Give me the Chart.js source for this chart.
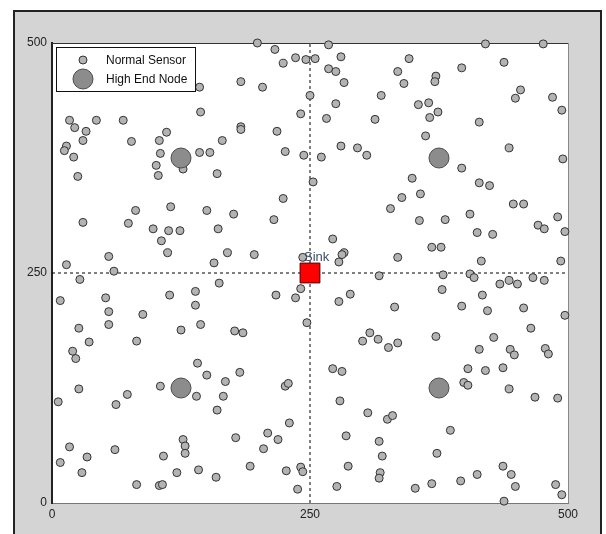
<!DOCTYPE html>
<html>
<head>
<meta charset="utf-8">
<script src="https://cdn.jsdelivr.net/npm/chart.js@4.4.1/dist/chart.umd.min.js"></script>
<style>
  html, body { margin: 0; padding: 0; background: #fff; }
  canvas { display: block; }
</style>
</head>
<body>
<canvas id="chart" width="606" height="534"></canvas>
<script>
// sensor field, 500 x 500
const sensorX = [143, 144, 17, 22, 43, 69, 33, 111, 30, 77, 104, 165, 14, 12, 21, 105, 143, 153, 101, 127, 103, 25, 160,
  199, 216, 268, 224, 236, 246, 255, 280, 268, 275, 335, 183, 204, 283, 250, 319, 275, 241, 266, 313, 183, 183, 218, 280, 296, 305, 226, 244, 261, 253, 224,
  420, 476, 346, 397, 438, 372, 371, 341, 454, 449, 485, 494, 355, 365, 374, 366, 414, 362, 443, 495, 397, 349, 414, 424, 357, 339,
  81, 115, 150, 30, 74, 98, 113, 124, 161, 106, 112, 170, 55, 14, 157, 60, 27, 162, 8, 52, 114, 139, 139, 55, 88, 55, 144, 26, 125, 36, 82, 20,
  328, 176, 215, 272, 196, 283, 281, 243, 278, 335, 317, 241, 217, 236, 289, 278, 332, 247, 177, 185, 308, 316, 301, 326, 335,
  447, 457, 356, 381, 405, 490, 471, 477, 497, 412, 427, 368, 377, 416, 493, 379, 405, 409, 466, 477, 434, 443, 451, 378, 417, 397, 422, 457, 497, 464, 372, 428, 414, 444, 478, 481, 448,
  23, 141, 150, 168, 26, 105, 140, 166, 6, 62, 73, 160, 127, 129, 129, 17, 34, 61, 8, 108, 29, 121, 142, 159, 82, 104, 107,
  182, 226, 229, 272, 281, 279, 306, 325, 330, 230, 209, 219, 178, 205, 285, 317, 320, 192, 227, 241, 243, 287, 318, 317, 276, 238,
  403, 420, 437, 399, 403, 443, 468, 490, 386, 373, 437, 445, 412, 396, 368, 352, 449, 488, 494, 438];
const sensorY = [452, 425, 416, 408, 416, 416, 404, 403, 394, 393, 394, 394, 388, 383, 376, 380, 381, 381, 367, 363, 356, 355, 358,
  500, 493, 498, 478, 484, 482, 483, 485, 472, 469, 469, 458, 452, 457, 443, 443, 434, 423, 418, 417, 409, 406, 404, 388, 386, 378, 382, 378, 376, 349, 331,
  499, 499, 483, 473, 479, 464, 458, 456, 449, 440, 441, 427, 433, 435, 425, 419, 414, 399, 386, 374, 364, 353, 348, 345, 336, 332,
  318, 322, 318, 305, 304, 298, 296, 296, 298, 285, 272, 272, 268, 259, 261, 252, 243, 239, 220, 223, 226, 230, 215, 208, 205, 194, 194, 190, 188, 175, 176, 165,
  320, 314, 308, 287, 270, 272, 270, 267, 262, 267, 247, 233, 226, 223, 227, 219, 213, 196, 187, 185, 185, 178, 176, 169, 174,
  325, 325, 307, 308, 314, 311, 302, 298, 295, 294, 292, 278, 278, 263, 263, 248, 249, 245, 245, 242, 238, 242, 238, 232, 226, 214, 209, 212, 204, 190, 181, 180, 167, 167, 168, 162, 161,
  157, 152, 139, 132, 124, 127, 116, 116, 110, 107, 118, 101, 69, 62, 54, 61, 50, 58, 44, 51, 33, 33, 36, 28, 20, 19, 20,
  142, 127, 130, 146, 143, 111, 98, 91, 95, 87, 76, 69, 71, 59, 73, 67, 51, 40, 35, 39, 34, 40, 33, 27, 18, 15,
  146, 144, 147, 131, 128, 124, 115, 114, 79, 54, 40, 31, 31, 24, 21, 16, 18, 20, 9, 2];
const highEndX = [125, 375, 125, 375];
const highEndY = [375, 375, 125, 125];
const sinkX = [250];
const sinkY = [250];
const axisTicks = [0, 250, 500];
const legendLabels = ["Normal Sensor", "High End Node"];
const sinkLabel = "Sink";

const FONT = "'Liberation Sans', Arial, sans-serif";

function toPoints(xs, ys) {
  return xs.map((x, i) => ({ x: x, y: ys[i] }));
}

const framePlugin = {
  id: "frame",
  beforeDraw(chart) {
    const ctx = chart.ctx, a = chart.chartArea;
    ctx.save();
    ctx.fillStyle = "#fff";
    ctx.fillRect(0, 0, chart.width, chart.height);
    ctx.fillStyle = "#d4d4d4";
    ctx.fillRect(14, 11, 587, 540);
    ctx.strokeStyle = "#222";
    ctx.lineWidth = 2;
    ctx.strokeRect(14, 11, 587, 540);
    ctx.fillStyle = "#fff";
    ctx.fillRect(a.left, a.top, a.right - a.left, a.bottom - a.top);
    ctx.restore();
  },
  beforeDatasetsDraw(chart) {
    const ctx = chart.ctx, a = chart.chartArea;
    ctx.save();
    ctx.lineWidth = 1;
    ctx.strokeStyle = "#333";
    ctx.beginPath();
    ctx.moveTo(a.left, a.top + 0.5);
    ctx.lineTo(a.right + 1, a.top + 0.5);
    ctx.stroke();
    ctx.strokeStyle = "#888";
    ctx.beginPath();
    ctx.moveTo(a.right + 0.5, a.top);
    ctx.lineTo(a.right + 0.5, a.bottom);
    ctx.stroke();
    ctx.restore();
  },
  afterDatasetsDraw(chart) {
    const ctx = chart.ctx;
    const sx = chart.scales.x.getPixelForValue(sinkX[0]);
    const sy = chart.scales.y.getPixelForValue(sinkY[0]);
    ctx.save();
    ctx.font = "13px " + FONT;
    ctx.fillStyle = "#3b4a6b";
    ctx.textBaseline = "alphabetic";
    ctx.fillText(sinkLabel, sx - 6, sy - 12);
    ctx.restore();
  },
  afterDraw(chart) {
    const ctx = chart.ctx, a = chart.chartArea;
    const bx = a.left + 4, by = a.top + 4;
    ctx.save();
    ctx.fillStyle = "#fff";
    ctx.fillRect(bx, by, 139, 44);
    ctx.strokeStyle = "#111";
    ctx.lineWidth = 1;
    ctx.strokeRect(bx + 0.5, by + 0.5, 139, 44);
    const sets = [chart.data.datasets[1], chart.data.datasets[2]];
    const rows = [by + 13, by + 32];
    sets.forEach((ds, i) => {
      ctx.beginPath();
      ctx.arc(bx + 27, rows[i], ds.pointRadius, 0, Math.PI * 2);
      ctx.fillStyle = ds.backgroundColor;
      ctx.fill();
      ctx.lineWidth = ds.borderWidth;
      ctx.strokeStyle = ds.borderColor;
      ctx.stroke();
      ctx.font = "12px " + FONT;
      ctx.fillStyle = "#111";
      ctx.textBaseline = "middle";
      ctx.fillText(legendLabels[i], bx + 50, rows[i] + 1);
    });
    ctx.restore();
  }
};

const axisStyle = (fit) => ({
  type: "linear",
  min: 0,
  max: 500,
  afterBuildTicks: s => { s.ticks = axisTicks.map(v => ({ value: v })); },
  afterFit: fit,
  grid: { display: false, drawTicks: false },
  ticks: { font: { family: FONT, size: 12 }, color: "#222", padding: 5 }
});

const xAxis = axisStyle(s => { s.height = 31; });
xAxis.border = { display: true, color: "#777", width: 1 };
xAxis.ticks.padding = 4;
const yAxis = axisStyle(s => { s.width = 52; });
yAxis.border = { display: true, color: "#222", width: 2 };

new Chart(document.getElementById("chart"), {
  type: "scatter",
  data: {
    datasets: [
      {
        data: [{ x: 250, y: 0 }, { x: 250, y: 500 }],
        showLine: true, pointRadius: 0, borderColor: "#000", borderWidth: 1,
        borderDash: [3, 3], order: 4
      },
      {
        data: toPoints(sensorX, sensorY),
        pointRadius: 4, backgroundColor: "#b3b3b3", borderColor: "#333",
        borderWidth: 1, clip: false, order: 2
      },
      {
        data: toPoints(highEndX, highEndY),
        pointRadius: 10, backgroundColor: "#8c8c8c", borderColor: "#4d4d4d",
        borderWidth: 1, order: 1
      },
      {
        data: toPoints(sinkX, sinkY),
        pointStyle: "rect", pointRadius: 14, backgroundColor: "#ff0000",
        borderColor: "#400", borderWidth: 1, order: 0
      },
      {
        data: [{ x: 0, y: 250 }, { x: 500, y: 250 }],
        showLine: true, pointRadius: 0, borderColor: "#000", borderWidth: 1,
        borderDash: [3, 3], order: 3
      }
    ]
  },
  options: {
    responsive: false,
    animation: false,
    devicePixelRatio: 1,
    layout: { padding: { top: 43, right: 38, bottom: 0, left: 0 } },
    plugins: { legend: { display: false }, tooltip: { enabled: false } },
    scales: { x: xAxis, y: yAxis }
  },
  plugins: [framePlugin]
});
</script>
</body>
</html>
